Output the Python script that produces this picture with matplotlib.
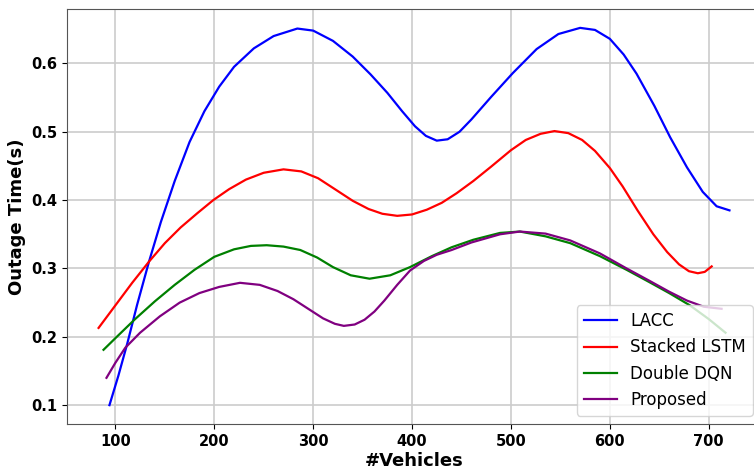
import matplotlib
matplotlib.use("Agg")
import matplotlib.pyplot as plt

# outage time per scheme vs. number of vehicles
lacc_x = [94, 103, 112, 122, 134, 146, 160, 175, 190, 205, 220, 240, 260, 284, 300, 320, 340,
          358, 375, 390, 403, 414, 425, 436, 448, 460, 480, 502, 526, 548, 570, 585, 600, 614,
          627, 645, 661, 678, 694, 708, 721]
lacc_y = [0.100, 0.143, 0.190, 0.247, 0.310, 0.368, 0.428, 0.485, 0.530, 0.566, 0.595, 0.622,
          0.640, 0.651, 0.648, 0.633, 0.610, 0.584, 0.557, 0.530, 0.508, 0.494, 0.487, 0.489,
          0.500, 0.518, 0.551, 0.586, 0.621, 0.643, 0.652, 0.649, 0.636, 0.613, 0.585, 0.538,
          0.492, 0.448, 0.412, 0.391, 0.385]

lstm_x = [83, 100, 117, 134, 150, 166, 183, 199, 215, 232, 250, 270, 288, 305, 322, 340, 356,
          370, 385, 400, 415, 430, 445, 462, 480, 500, 515, 530, 544, 558, 572, 585, 600, 613,
          628, 644, 658, 670, 680, 689, 696, 703]
lstm_y = [0.213, 0.246, 0.279, 0.310, 0.337, 0.360, 0.381, 0.400, 0.416, 0.430, 0.440, 0.445,
          0.442, 0.432, 0.416, 0.399, 0.387, 0.380, 0.377, 0.379, 0.386, 0.396, 0.410, 0.428,
          0.449, 0.473, 0.488, 0.497, 0.501, 0.498, 0.488, 0.472, 0.447, 0.420, 0.385, 0.350,
          0.324, 0.306, 0.296, 0.293, 0.295, 0.303]

ddqn_x = [88, 100, 120, 140, 160, 180, 200, 220, 237, 253, 270, 287, 304, 320, 338, 357, 378,
          398, 420, 440, 462, 489, 509, 535, 560, 590, 617, 640, 660, 681, 700, 717]
ddqn_y = [0.181, 0.198, 0.226, 0.252, 0.276, 0.298, 0.317, 0.328, 0.333, 0.334, 0.332, 0.327,
          0.316, 0.302, 0.290, 0.285, 0.290, 0.302, 0.318, 0.331, 0.342, 0.352, 0.354, 0.347,
          0.337, 0.318, 0.298, 0.280, 0.264, 0.246, 0.226, 0.206]

prop_x = [91, 100, 110, 125, 145, 165, 185, 205, 226, 246, 264, 280, 295, 310, 322, 331, 342,
          352, 362, 372, 385, 398, 412, 425, 440, 460, 489, 509, 535, 560, 590, 617, 640, 660,
          678, 695, 713]
prop_y = [0.140, 0.162, 0.184, 0.206, 0.230, 0.250, 0.264, 0.273, 0.279, 0.276, 0.267, 0.255,
          0.241, 0.227, 0.219, 0.216, 0.218, 0.225, 0.237, 0.253, 0.276, 0.297, 0.311, 0.320,
          0.327, 0.338, 0.350, 0.354, 0.351, 0.341, 0.322, 0.300, 0.282, 0.266, 0.253, 0.244,
          0.241]

fig = plt.figure(figsize=(7.54, 4.69), dpi=100)
ax = fig.add_axes([0.0889, 0.0959, 0.9204, 0.8849])

ax.plot(lacc_x, lacc_y, color="blue", lw=1.6, label="LACC")
ax.plot(lstm_x, lstm_y, color="red", lw=1.6, label="Stacked LSTM")
ax.plot(ddqn_x, ddqn_y, color="green", lw=1.6, label="Double DQN")
ax.plot(prop_x, prop_y, color="purple", lw=1.6, label="Proposed")

ax.grid(True, color="#cccccc", lw=1.2)
ax.set_xticks([100, 200, 300, 400, 500, 600, 700])
ax.set_yticks([0.1, 0.2, 0.3, 0.4, 0.5, 0.6])
for lab in ax.get_xticklabels() + ax.get_yticklabels():
    lab.set_fontweight("bold")
    lab.set_fontsize(10.5)
for sp in ax.spines.values():
    sp.set_color("#555555")

ax.set_xlabel("#Vehicles", fontsize=13, fontweight="bold", labelpad=2)
ax.set_ylabel("Outage Time(s)", fontsize=13, fontweight="bold")
ax.legend(loc="lower right", fontsize=12)

fig.savefig("out.png", dpi=100)
